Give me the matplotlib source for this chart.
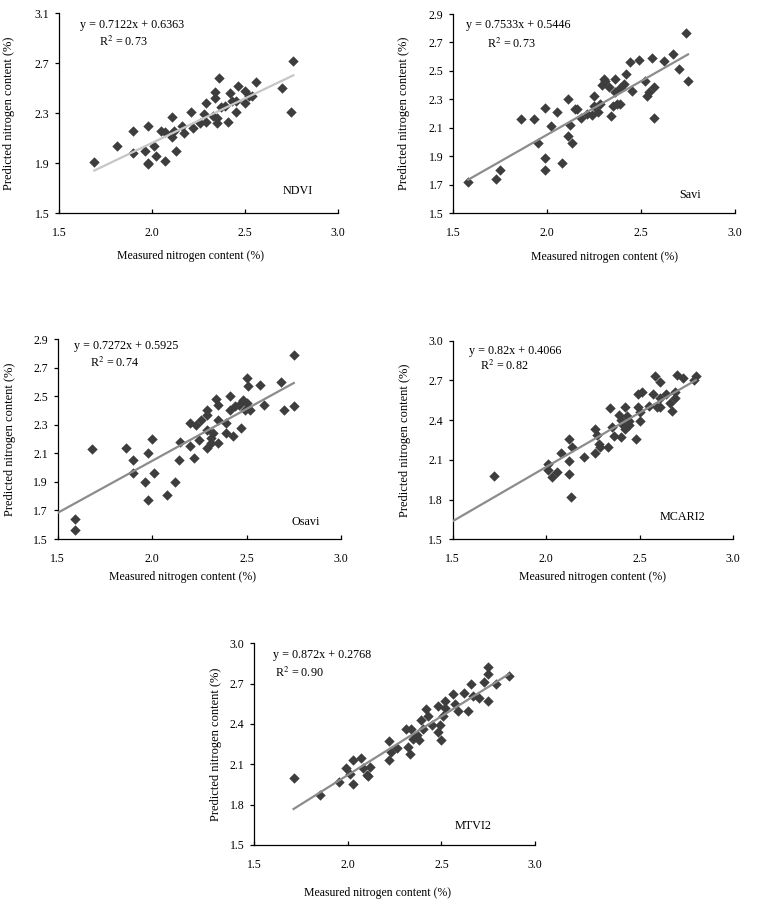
import matplotlib
matplotlib.use("Agg")
import matplotlib.pyplot as plt
import numpy as np

plt.rcParams['font.family'] = ['Liberation Serif', 'DejaVu Serif']
plt.rcParams['mathtext.fontset'] = 'stix'

# measured vs predicted nitrogen content
ndvi_x = [1.69, 1.81, 1.90, 1.90, 1.96, 1.98, 1.98, 1.98, 2.01, 2.02, 2.07, 2.05, 2.07,
          2.11, 2.11, 2.12, 2.13, 2.16, 2.17, 2.21, 2.22, 2.26, 2.28, 2.29, 2.29, 2.34,
          2.34, 2.33, 2.35, 2.35, 2.36, 2.37, 2.39, 2.41, 2.42, 2.43, 2.45, 2.45, 2.46,
          2.50, 2.50, 2.52, 2.54, 2.56, 2.70, 2.76, 2.75]
ndvi_y = [1.91, 2.04, 2.16, 1.98, 2.00, 2.20, 1.90, 1.89, 2.04, 1.96, 1.92, 2.16, 2.15,
          2.27, 2.11, 2.16, 2.00, 2.20, 2.14, 2.31, 2.18, 2.22, 2.29, 2.38, 2.23, 2.47,
          2.42, 2.28, 2.26, 2.22, 2.58, 2.35, 2.36, 2.23, 2.46, 2.40, 2.31, 2.40, 2.52,
          2.38, 2.48, 2.44, 2.44, 2.55, 2.50, 2.72, 2.31]

savi_x = [1.58, 1.73, 1.75, 1.86, 1.93, 1.95, 1.99, 1.99, 1.99, 2.02, 2.05, 2.08, 2.11,
          2.12, 2.11, 2.13, 2.15, 2.16, 2.18, 2.21, 2.24, 2.25, 2.25, 2.27, 2.28, 2.29,
          2.30, 2.31, 2.33, 2.34, 2.35, 2.36, 2.36, 2.37, 2.39, 2.39, 2.41, 2.42, 2.44,
          2.45, 2.49, 2.52, 2.53, 2.54, 2.56, 2.57, 2.57, 2.62, 2.67, 2.70, 2.74, 2.75]
savi_y = [1.72, 1.74, 1.80, 2.16, 2.16, 1.99, 2.24, 1.89, 1.80, 2.11, 2.21, 1.85, 2.30,
          2.12, 2.04, 1.99, 2.23, 2.23, 2.17, 2.20, 2.19, 2.25, 2.32, 2.21, 2.27, 2.40,
          2.44, 2.43, 2.39, 2.18, 2.25, 2.44, 2.35, 2.27, 2.38, 2.27, 2.41, 2.48, 2.56,
          2.36, 2.58, 2.43, 2.32, 2.35, 2.59, 2.39, 2.17, 2.57, 2.62, 2.51, 2.77, 2.43]

osavi_x = [1.59, 1.59, 1.68, 1.86, 1.90, 1.90, 1.96, 1.98, 1.98, 2.00, 2.01, 2.08, 2.12,
           2.14, 2.15, 2.20, 2.20, 2.22, 2.23, 2.25, 2.26, 2.29, 2.29, 2.29, 2.29, 2.31,
           2.31, 2.32, 2.34, 2.35, 2.35, 2.35, 2.39, 2.39, 2.41, 2.41, 2.43, 2.44, 2.46,
           2.47, 2.48, 2.49, 2.50, 2.50, 2.51, 2.52, 2.57, 2.59, 2.68, 2.70, 2.75, 2.75]
osavi_y = [1.64, 1.56, 2.13, 2.14, 2.05, 1.96, 1.90, 2.10, 1.77, 2.20, 1.96, 1.81, 1.90,
           2.05, 2.18, 2.15, 2.31, 2.07, 2.30, 2.19, 2.33, 2.26, 2.14, 2.40, 2.37, 2.21,
           2.17, 2.24, 2.48, 2.44, 2.17, 2.33, 2.31, 2.24, 2.40, 2.50, 2.22, 2.43, 2.44,
           2.28, 2.47, 2.40, 2.45, 2.63, 2.57, 2.40, 2.58, 2.44, 2.60, 2.40, 2.79, 2.43]

mcari2_x = [1.72, 2.01, 2.01, 2.03, 2.06, 2.08, 2.12, 2.12, 2.12, 2.13, 2.14, 2.20, 2.26,
            2.26, 2.27, 2.28, 2.29, 2.33, 2.34, 2.35, 2.36, 2.39, 2.40, 2.40, 2.41, 2.42,
            2.42, 2.43, 2.44, 2.44, 2.48, 2.49, 2.49, 2.50, 2.51, 2.50, 2.55, 2.57, 2.58,
            2.59, 2.61, 2.61, 2.61, 2.64, 2.66, 2.67, 2.69, 2.69, 2.70, 2.73, 2.80, 2.79]
mcari2_y = [1.98, 2.07, 2.02, 1.97, 2.01, 2.15, 2.26, 2.09, 1.99, 1.82, 2.20, 2.12, 2.15,
            2.33, 2.29, 2.22, 2.20, 2.20, 2.49, 2.35, 2.28, 2.44, 2.27, 2.40, 2.36, 2.50,
            2.33, 2.43, 2.39, 2.36, 2.26, 2.50, 2.60, 2.39, 2.61, 2.46, 2.51, 2.60, 2.73,
            2.50, 2.69, 2.57, 2.50, 2.60, 2.53, 2.47, 2.61, 2.57, 2.74, 2.72, 2.73, 2.70]

mtvi2_x = [1.71, 1.85, 1.95, 1.99, 2.01, 2.03, 2.03, 2.07, 2.08, 2.10, 2.11, 2.12, 2.22,
           2.22, 2.23, 2.26, 2.31, 2.32, 2.33, 2.34, 2.35, 2.37, 2.38, 2.39, 2.40, 2.42,
           2.43, 2.45, 2.48, 2.48, 2.49, 2.50, 2.51, 2.52, 2.52, 2.56, 2.57, 2.59, 2.62,
           2.64, 2.66, 2.67, 2.70, 2.73, 2.75, 2.75, 2.75, 2.79, 2.86]
mtvi2_y = [2.00, 1.87, 1.97, 2.07, 2.03, 2.13, 1.95, 2.15, 2.07, 2.02, 2.01, 2.08, 2.27,
           2.13, 2.19, 2.22, 2.36, 2.23, 2.18, 2.36, 2.29, 2.32, 2.28, 2.43, 2.36, 2.51,
           2.46, 2.39, 2.53, 2.34, 2.39, 2.28, 2.46, 2.57, 2.52, 2.62, 2.55, 2.50, 2.63,
           2.50, 2.70, 2.61, 2.59, 2.71, 2.82, 2.77, 2.57, 2.70, 2.76]

names = ['NDVI', 'Savi', 'Osavi', 'MCARI2', 'MTVI2']
slopes = [0.7122, 0.7533, 0.7272, 0.82, 0.872]
intercepts = [0.6363, 0.5446, 0.5925, 0.4066, 0.2768]
equations = ['y = 0.7122x + 0.6363', 'y = 0.7533x + 0.5446', 'y = 0.7272x + 0.5925',
             'y = 0.82x + 0.4066', 'y = 0.872x + 0.2768']
r2_labels = ['0.73', '0.73', '0.74', '0.82', '0.90']
y_ticks = [[1.5, 1.9, 2.3, 2.7, 3.1],
           [1.5, 1.7, 1.9, 2.1, 2.3, 2.5, 2.7, 2.9],
           [1.5, 1.7, 1.9, 2.1, 2.3, 2.5, 2.7, 2.9],
           [1.5, 1.8, 2.1, 2.4, 2.7, 3.0],
           [1.5, 1.8, 2.1, 2.4, 2.7, 3.0]]
x_ticks = [1.5, 2.0, 2.5, 3.0]

xs = [ndvi_x, savi_x, osavi_x, mcari2_x, mtvi2_x]
ys = [ndvi_y, savi_y, osavi_y, mcari2_y, mtvi2_y]

# layout bits
boxes = [[0.0778, 0.7646, 0.3681, 0.2210],
         [0.5980, 0.7646, 0.3716, 0.2199],
         [0.0761, 0.4044, 0.3738, 0.2210],
         [0.5972, 0.4041, 0.3702, 0.2194],
         [0.3355, 0.0663, 0.3703, 0.2229]]
fit_from_axis = [False, False, True, True, False]
line_colors = ['#c6c6c6', '#8c8c8c', '#8c8c8c', '#8c8c8c', '#8c8c8c']
eq_pos = [(0.075, 0.94), (0.045, 0.945), (0.058, 0.965), (0.058, 0.95), (0.066, 0.942)]
r2_pos = [(0.143, 0.855), (0.118, 0.848), (0.114, 0.88), (0.097, 0.874), (0.074, 0.851)]
name_pos = [(0.803, 0.11), (0.802, 0.09), (0.826, 0.087), (0.736, 0.114), (0.715, 0.096)]
ylab_x = [-0.178, -0.175, -0.168, -0.17, -0.136]
xlab_pos = [(0.47, -0.215), (0.538, -0.22), (0.44, -0.188), (0.497, -0.19), (0.44, -0.24)]

fig = plt.figure(figsize=(7.58, 9.05), dpi=100)

for i in range(5):
    ax = fig.add_axes(boxes[i])
    ax.scatter(xs[i], ys[i], marker='D', s=28, color='#3d3d3d', linewidths=0, zorder=2)

    x0 = 1.5 if fit_from_axis[i] else min(xs[i])
    lx = np.array([x0, max(xs[i])])
    ax.plot(lx, slopes[i] * lx + intercepts[i], color=line_colors[i], lw=1.6, zorder=3)

    ax.set_xlim(1.5, 3.0)
    ax.set_ylim(y_ticks[i][0], y_ticks[i][-1])
    ax.set_xticks(x_ticks)
    ax.set_yticks(y_ticks[i])
    ax.set_xticklabels(['%.1f' % t for t in x_ticks])
    ax.set_yticklabels(['%.1f' % t for t in y_ticks[i]])
    ax.spines['top'].set_visible(False)
    ax.spines['right'].set_visible(False)
    for s in ['left', 'bottom']:
        ax.spines[s].set_linewidth(0.9)
    ax.tick_params(axis='x', direction='in', length=3, width=0.9, pad=10, labelsize=8.5)
    ax.tick_params(axis='y', direction='out', length=3, width=0.9, pad=4, labelsize=8.5)

    ax.set_ylabel('Predicted nitrogen content (%)', fontsize=9)
    ax.yaxis.label.set_va('center')
    ax.yaxis.set_label_coords(ylab_x[i], 0.5)
    ax.set_xlabel('Measured nitrogen content (%)', fontsize=8.5)
    ax.xaxis.label.set_va('center')
    ax.xaxis.set_label_coords(*xlab_pos[i])

    ax.text(eq_pos[i][0], eq_pos[i][1], equations[i], transform=ax.transAxes,
            fontsize=8.7, va='center', ha='left')
    ax.text(r2_pos[i][0], r2_pos[i][1], 'R$^2$ = ' + r2_labels[i], transform=ax.transAxes,
            fontsize=8.7, va='center', ha='left')
    ax.text(name_pos[i][0], name_pos[i][1], names[i], transform=ax.transAxes,
            fontsize=8.7, va='center', ha='left')

fig.savefig('out.png', dpi=100)
